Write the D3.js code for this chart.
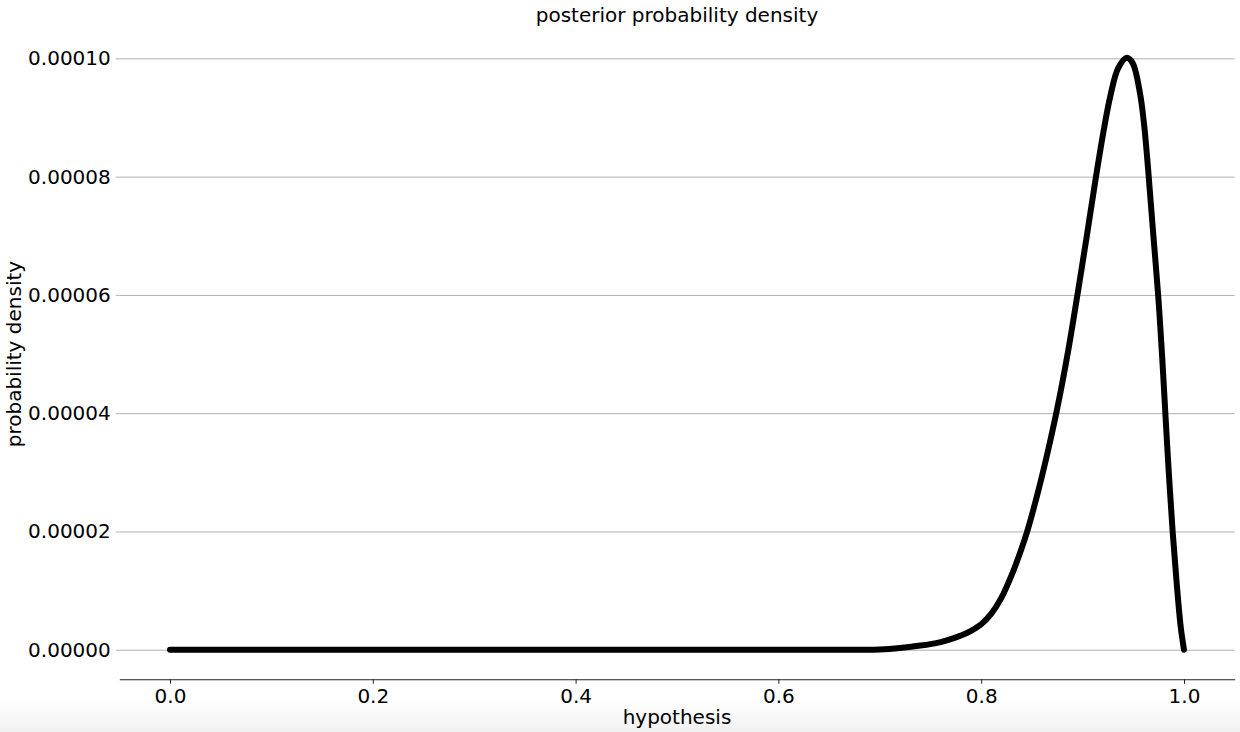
<!DOCTYPE html>
<html>
<head>
<meta charset="utf-8">
<script src="https://cdn.jsdelivr.net/npm/d3@7"></script>
<style>
  html, body { margin: 0; padding: 0; background: #fff; }
  svg { display: block; font-family: "DejaVu Sans", sans-serif; }
</style>
</head>
<body>
<div id="chart"></div>
<script>
// values
const hypothesis = [0, 0.2, 0.4, 0.6, 0.68, 0.70, 0.72, 0.74, 0.75, 0.76, 0.77, 0.78, 0.79, 0.80,
    0.81, 0.82, 0.83, 0.84, 0.845, 0.855, 0.865, 0.875, 0.8853, 0.8948, 0.904, 0.9132,
    0.9214, 0.9277, 0.935, 0.9435, 0.9494, 0.9566, 0.9609, 0.9652, 0.9698, 0.9745,
    0.9783, 0.9815, 0.985, 0.9888, 0.9928, 0.9968, 1.0];
const density = [0, 0, 0, 0, 0, 0.05e-6, 0.3e-6, 0.7e-6, 0.95e-6, 1.3e-6, 1.8e-6, 2.4e-6, 3.2e-6, 4.3e-6,
    6.1e-6, 8.8e-6, 12.6e-6, 17.2e-6, 19.8e-6, 26e-6, 33e-6, 40.8e-6, 50.1e-6, 59.9e-6,
    69.8e-6, 80e-6, 88.4e-6, 93.9e-6, 98.3e-6, 100.1e-6, 99.2e-6, 94.1e-6, 88.4e-6, 80e-6,
    70e-6, 60e-6, 50e-6, 40.3e-6, 30e-6, 20e-6, 11.2e-6, 3.8e-6, 0];
const xTicks = [0, 0.2, 0.4, 0.6, 0.8, 1.0];
const yTicks = [0, 0.00002, 0.00004, 0.00006, 0.00008, 0.00010];

const width = 1240, height = 732;
const fontSize = "20px";

const svg = d3.select("#chart").append("svg")
    .attr("width", width)
    .attr("height", height);

// soft grey fade at the bottom of the window
const defs = svg.append("defs");
const grad = defs.append("linearGradient")
    .attr("id", "fade").attr("x1", 0).attr("y1", 0).attr("x2", 0).attr("y2", 1);
grad.append("stop").attr("offset", "0%").attr("stop-color", "#ffffff");
grad.append("stop").attr("offset", "100%").attr("stop-color", "#f1f1f1");
svg.append("rect")
    .attr("x", 0).attr("y", 700).attr("width", width).attr("height", 32)
    .attr("fill", "url(#fade)");

const x = d3.scaleLinear().domain([-0.05, 1.05]).range([119.3, 1234.7]);
const y = d3.scaleLinear().domain([-0.000005, 0.000105]).range([679.3, 28.8]);

// horizontal grid + y ticks (no left spine)
const yAxis = svg.append("g")
    .attr("transform", `translate(${x.range()[0]},0)`)
    .call(d3.axisLeft(y).tickValues(yTicks).tickFormat(d3.format(".5f"))
        .tickSize(3.5).tickPadding(5));
yAxis.select(".domain").remove();
yAxis.selectAll(".tick line").attr("stroke", "#b0b0b0");
yAxis.selectAll(".tick text")
    .attr("fill", "#000")
    .style("font-size", fontSize)
    .style("font-family", "DejaVu Sans");
yAxis.selectAll(".tick").append("line")
    .attr("x1", 0).attr("x2", x.range()[1] - x.range()[0])
    .attr("stroke", "#b0b0b0").attr("stroke-width", 1);

// bottom axis
const xAxis = svg.append("g")
    .attr("transform", `translate(0,${y.range()[0]})`)
    .call(d3.axisBottom(x).tickValues(xTicks).tickFormat(d3.format(".1f"))
        .tickSize(4.5).tickPadding(5).tickSizeOuter(0));
xAxis.select(".domain").attr("stroke", "#222").attr("stroke-width", 1.1);
xAxis.selectAll(".tick line").attr("stroke", "#222");
xAxis.selectAll(".tick text")
    .attr("fill", "#000")
    .style("font-size", fontSize)
    .style("font-family", "DejaVu Sans");

// the curve
const pts = hypothesis.map((h, i) => [h, density[i]]);
const line = d3.line()
    .x(d => x(d[0]))
    .y(d => y(d[1]))
    .curve(d3.curveCatmullRom.alpha(0.5));

svg.append("path")
    .datum(pts)
    .attr("d", line)
    .attr("fill", "none")
    .attr("stroke", "#000")
    .attr("stroke-width", 6)
    .attr("stroke-linecap", "round")
    .attr("stroke-linejoin", "round");

// titles
const midX = (x.range()[0] + x.range()[1]) / 2;
svg.append("text")
    .attr("x", midX).attr("y", 22)
    .attr("text-anchor", "middle")
    .style("font-size", fontSize)
    .text("posterior probability density");

svg.append("text")
    .attr("x", midX).attr("y", 724)
    .attr("text-anchor", "middle")
    .style("font-size", fontSize)
    .text("hypothesis");

svg.append("text")
    .attr("transform", `translate(21,${(y.range()[0] + y.range()[1]) / 2}) rotate(-90)`)
    .attr("text-anchor", "middle")
    .style("font-size", fontSize)
    .text("probability density");
</script>
</body>
</html>
